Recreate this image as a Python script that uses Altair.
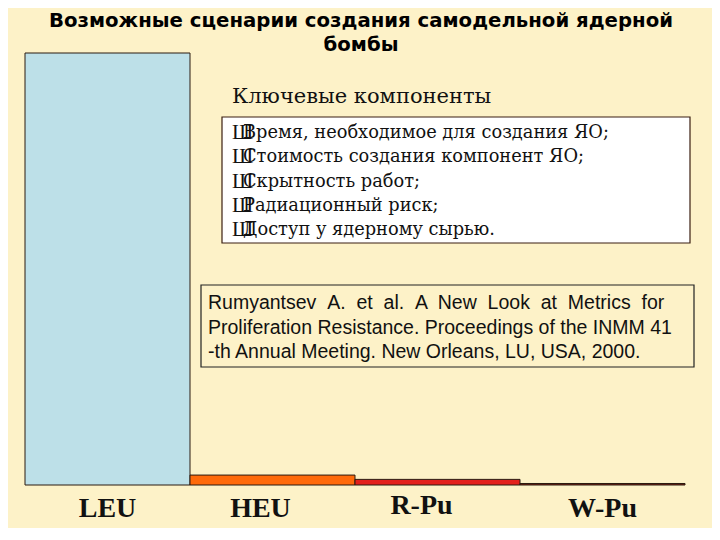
import altair as alt
import pandas as pd

# ---- data ----
categories = ["LEU", "HEU", "R-Pu", "W-Pu"]
values = [100, 2.3, 1.3, 0.35]
bar_colors = ["#BDE0E8", "#FF6A0A", "#E3201B", "#7A1F12"]

title_lines = ["Возможные сценарии создания самодельной ядерной", "бомбы"]
key_title = "Ключевые компоненты"
bullet_marks = ["Ш", "Ш", "Ш", "Ш", "Ш"]
bullet_lines = [
    "Время, необходимое для создания ЯО;",
    "Стоимость создания компонент ЯО;",
    "Скрытность работ;",
    "Радиационный риск;",
    "Доступ у ядерному сырью.",
]
NB = " \u00a0"
ref_lines = [
    NB.join(["Rumyantsev", "A.", "et", "al.", "A", "New", "Look", "at", "Metrics", "for"]),
    "Proliferation Resistance. Proceedings of the INMM 41",
    "-th Annual Meeting. New Orleans, LU, USA, 2000.",
]

BG = "#FDF2C8"
df = pd.DataFrame({"cat": categories, "val": values})
one = alt.Data(values=[{"k": 0}])

bars = alt.Chart(df).mark_bar(stroke="#2a1a10", strokeWidth=1).encode(
    x=alt.X("cat:N", sort=categories,
            scale=alt.Scale(paddingInner=0, paddingOuter=0),
            axis=alt.Axis(title=None, domain=False, ticks=False, tickSize=0,
                          labelAngle=0, labelFont="Liberation Serif",
                          labelFontWeight="bold", labelFontSize=28,
                          labelColor="#111", labelBaseline="alphabetic",
                          labelOffset={"condition": [
                              {"test": "datum.value === 'HEU'", "value": -12},
                              {"test": "datum.value === 'R-Pu'", "value": -16}],
                              "value": 0},
                          labelPadding={"condition": [
                              {"test": "datum.value === 'R-Pu'", "value": 28}],
                              "value": 31})),
    y=alt.Y("val:Q", scale=alt.Scale(domain=[0, 100], nice=False),
            axis=None),
    color=alt.Color("cat:N", scale=alt.Scale(domain=categories, range=bar_colors),
                    legend=None),
)

title = alt.Chart(one).mark_text(
    text=title_lines, font="DejaVu Sans", fontWeight="bold", fontSize=19.7,
    lineHeight=24, align="center", baseline="middle", color="#000",
).encode(x=alt.value(336), y=alt.value(-32))

key = alt.Chart(one).mark_text(
    text=key_title, font="DejaVu Serif", fontSize=21, align="left",
    baseline="middle", color="#111",
).encode(x=alt.value(207), y=alt.value(44))

white_box = alt.Chart(one).mark_rect(
    fill="white", stroke="#3b1f12", strokeWidth=1.2,
).encode(x=alt.value(197), x2=alt.value(665), y=alt.value(64), y2=alt.value(190))

bullets = alt.Chart(one).mark_text(
    text=bullet_marks, font="Liberation Serif", fontSize=21, align="left",
    baseline="middle", lineHeight=24.3, color="#111",
).encode(x=alt.value(207), y=alt.value(80))

lines = alt.Chart(one).mark_text(
    text=bullet_lines, font="DejaVu Serif", fontSize=17.8, align="left",
    baseline="middle", lineHeight=24.3, color="#111",
).encode(x=alt.value(218), y=alt.value(80))

ref_box = alt.Chart(one).mark_rect(
    fillOpacity=0, stroke="#222", strokeWidth=1.2,
).encode(x=alt.value(176), x2=alt.value(669), y=alt.value(232), y2=alt.value(314))

ref_text = alt.Chart(one).mark_text(
    text=ref_lines, font="Liberation Sans", fontSize=19.5, align="left",
    baseline="middle", lineHeight=24.5, color="#111",
).encode(x=alt.value(183), y=alt.value(250))

chart = alt.layer(bars, white_box, key, lines, bullets, ref_box, ref_text, title).properties(
    width=660, height=432,
    autosize=alt.AutoSizeParams(type="none"),
    padding={"left": 17, "top": 45, "right": 27, "bottom": 43},
    background=BG,
).configure_view(stroke=None)

chart.save("out.html", embed_options={"renderer": "svg", "actions": False})
